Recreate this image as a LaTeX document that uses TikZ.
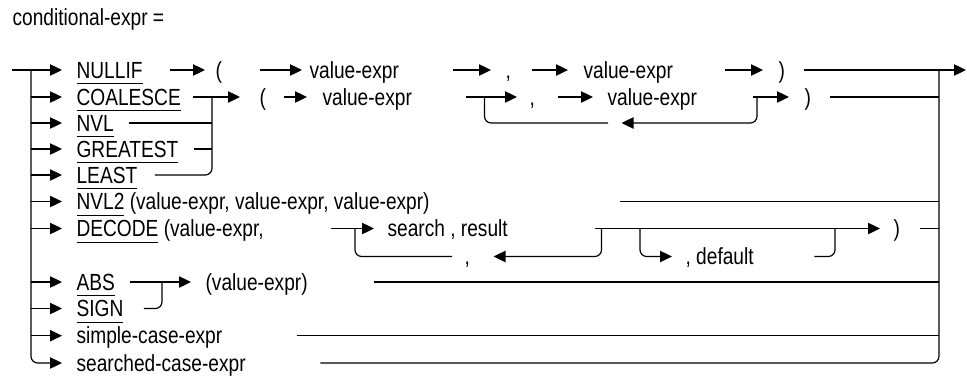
\documentclass[tikz,border=0pt]{standalone}
\usepackage{fontspec}
\setmainfont{Liberation Sans}[FakeStretch=0.82]
\usetikzlibrary{arrows.meta, calc}
\newcommand\kw[1]{\setbox0\hbox{#1}\rlap{\rule[-4.6pt]{\wd0}{0.75pt}}\box0\relax}

\begin{document}
\begin{tikzpicture}[x=0.75pt, y=-0.75pt, line width=0.9pt,
    lbl/.style={inner sep=0pt, anchor=west, text height=12.4pt, text depth=0pt,
                font=\fontsize{17.5}{20}\selectfont},
    go/.style={-{Triangle[length=9pt, width=8.5pt]}},
    rnd/.style={rounded corners=5pt}]
  \useasboundingbox (0,0) rectangle (967,376);

  % junctions
  \coordinate (in)  at (12,70);
  \coordinate (out) at (966,70);
  \coordinate (jl)  at (31,70);
  \coordinate (jr)  at (939,70);
  \coordinate (jc)  at (212,97);
  \coordinate (jb1) at (484.5,97);
  \coordinate (jb2) at (757,97);
  \coordinate (jd1) at (355,228.5);
  \coordinate (jd2) at (601.5,228.5);
  \coordinate (jd3) at (640,228.5);
  \coordinate (jd4) at (835,228.5);
  \coordinate (ja)  at (162,282);

  % labels
  \node[lbl] (title)    at (12,17)     {conditional-expr =};
  \node[lbl] (nullif)   at (76,70)     {\kw{NULLIF}};
  \node[lbl] (lpa)      at (215,70)    {(};
  \node[lbl] (vea1)     at (309,70)    {value-expr};
  \node[lbl] (commaa)   at (505,70)    {,};
  \node[lbl] (vea2)     at (583,70)    {value-expr};
  \node[lbl] (rpa)      at (778,70)    {)};
  \node[lbl] (coalesce) at (76,97)     {\kw{COALESCE}};
  \node[lbl] (lpb)      at (259,97)    {(};
  \node[lbl] (veb1)     at (322,97)    {value-expr};
  \node[lbl] (commab)   at (529,97)    {,};
  \node[lbl] (veb2)     at (607,97)    {value-expr};
  \node[lbl] (rpb)      at (804,97)    {)};
  \node[lbl] (nvl)      at (76,123)    {\kw{NVL}};
  \node[lbl] (greatest) at (76,149)    {\kw{GREATEST}};
  \node[lbl] (least)    at (76,175)    {\kw{LEAST}};
  \node[lbl] (nvltwo)   at (76,201.5)  {\kw{NVL2} (value-expr, value-expr, value-expr)};
  \node[lbl] (decode)   at (76,228.5)  {\kw{DECODE} (value-expr,};
  \node[lbl] (searchres) at (387,228.5) {search , result};
  \node[lbl] (rpd)      at (893,228.5) {)};
  \node[lbl] (commad)   at (464,256.5) {,};
  \node[lbl] (dflt)     at (685,256.5) {, default};
  \node[lbl] (abs)      at (76,282)    {\kw{ABS}};
  \node[lbl] (valabs)   at (205,282)   {(value-expr)};
  \node[lbl] (sign)     at (76,308.5)  {\kw{SIGN}};
  \node[lbl] (simple)   at (76,335.7)  {simple-case-expr};
  \node[lbl] (searched) at (76,363)    {searched-case-expr};

  % entry bar and exit bar
  \draw[go] (in) -- ($(nullif.west)+(-14,0)$);
  \draw[go,rnd] (jl) -- (jl |- searched) -- ($(searched.west)+(-14,0)$);
  \foreach \n in {coalesce,nvl,greatest,least,nvltwo,decode,abs,sign,simple}
    \draw[go] (jl |- \n) -- ($(\n.west)+(-14,0)$);
  \draw[rnd] ($(searched.east)+(74,0)$) -- (jr |- searched) -- (jr);
  \draw[go] ($(rpa.east)+(18,0)$) -- (out);

  % NULLIF
  \draw[go] ($(nullif.east)+(27,0)$) -- ($(lpa.west)+(-10,0)$);
  \draw[go] ($(lpa.east)+(37,0)$) -- ($(vea1.west)+(-7,0)$);
  \draw[go] ($(vea1.east)+(53,0)$) -- ($(commaa.west)+(-14,0)$);
  \draw[go] ($(commaa.east)+(20,0)$) -- ($(vea2.west)+(-15,0)$);
  \draw[go] ($(vea2.east)+(51,0)$) -- ($(rpa.west)+(-15,0)$);

  % COALESCE, NVL, GREATEST, LEAST
  \draw[go] ($(coalesce.east)+(12,0)$) -- ($(lpb.west)+(-19,0)$);
  \draw[go] ($(lpb.east)+(17,0)$) -- ($(veb1.west)+(-15,0)$);
  \draw[go] ($(veb1.east)+(53,0)$) -- ($(commab.west)+(-12,0)$);
  \draw[go] ($(commab.east)+(22,0)$) -- ($(veb2.west)+(-14,0)$);
  \draw[go] ($(veb2.east)+(55,0)$) -- ($(rpb.west)+(-15,0)$);
  \draw ($(rpb.east)+(18,0)$) -- (jr |- rpb);
  \draw[go,rnd] (jb2) -- (jb2 |- nvl) -- ++(-135.5,0);
  \draw[rnd] ($(jb1 |- nvl)+(123.5,0)$) -- (jb1 |- nvl) -- (jb1);
  \draw[rnd] (jc) -- (jc |- least) -- ($(least.east)+(17,0)$);
  \draw ($(nvl.east)+(15,0)$) -- (jc |- nvl);
  \draw ($(greatest.east)+(15,0)$) -- (jc |- greatest);

  % NVL2
  \draw ($(nvltwo.east)+(190,0)$) -- (jr |- nvltwo);

  % DECODE
  \draw[go] ($(decode.east)+(67,0)$) -- ($(searchres.west)+(-13,0)$);
  \draw[go] ($(jd2)+(-6.5,0)$) -- ($(rpd.west)+(-13,0)$);
  \draw ($(rpd.east)+(19,0)$) -- (jr |- rpd);
  \draw[go,rnd] (jd2) -- (jd2 |- commad) -- ($(commad.east)+(23,0)$);
  \draw[rnd] ($(commad.west)+(-12,0)$) -- (jd1 |- commad) -- (jd1);
  \draw[go,rnd] (jd3) -- (jd3 |- dflt) -- ($(dflt.west)+(-13,0)$);
  \draw[rnd] ($(dflt.east)+(60,0)$) -- (jd4 |- dflt) -- (jd4);

  % ABS, SIGN
  \draw[go] ($(abs.east)+(15,0)$) -- ($(valabs.west)+(-14,0)$);
  \draw[rnd] ($(sign.east)+(20,0)$) -- (ja |- sign) -- (ja);
  \draw ($(valabs.east)+(66,0)$) -- (jr |- valabs);

  % simple-case-expr
  \draw ($(simple.east)+(74,0)$) -- (jr |- simple);
\end{tikzpicture}
\end{document}
